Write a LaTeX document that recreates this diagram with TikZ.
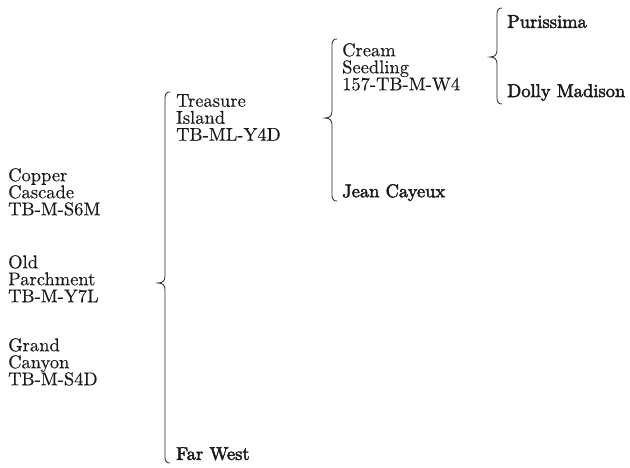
\documentclass[tikz,border=0pt]{standalone}
\usepackage{fontspec}
\setmainfont{lmroman10-regular.otf}[FakeBold=0.3]
\newfontfamily\heavyfont{lmroman10-regular.otf}[FakeBold=2.4]
\newcommand\curlybrace[4]{% x, top, tip y, bottom
  \draw[bracestyle] (#1+5,#2) .. controls (#1+1.5,#2) and (#1,#2+2) .. (#1,#2+6)
    -- (#1,#3-7) .. controls (#1,#3-2.5) and (#1-2,#3) .. (#1-7,#3)
    .. controls (#1-2,#3) and (#1,#3+2.5) .. (#1,#3+7)
    -- (#1,#4-6) .. controls (#1,#4-2) and (#1+1.5,#4) .. (#1+5,#4);}
\begin{document}
\begin{tikzpicture}[x=1pt,y=-1pt,
  bracestyle/.style={line width=0.8pt, black!85},
  lbl/.style={anchor=north west, inner sep=0pt, align=left,
    font=\fontsize{18.5}{17}\selectfont, text=black!90},
  hlbl/.style={lbl, font=\fontsize{18.5}{17}\selectfont\heavyfont}]
\useasboundingbox (0,0) rectangle (630,468);
% left column
\node[lbl] (copper) at (8,168) {Copper\\Cascade\\TB-M-S6M};
\node[lbl] (old) at (8,255) {Old\\Parchment\\TB-M-Y7L};
\node[lbl] (grand) at (8,338) {Grand\\Canyon\\TB-M-S4D};
% second column
\curlybrace{165}{92}{283}{463}
\node[lbl] (treas) at (176,94) {Treasure\\Island\\TB-ML-Y4D};
\node[hlbl] (far) at (176,447) {Far West};
% third column
\curlybrace{332}{39}{118}{201}
\node[lbl] (cream) at (342,43) {Cream\\Seedling\\157-TB-M-W4};
\node[hlbl] (jean) at (342,184) {Jean Cayeux};
% fourth column
\curlybrace{497}{8}{57}{104}
\node[hlbl] (pur) at (507,15) {Purissima};
\node[hlbl] (dol) at (507,84) {Dolly Madison};
\end{tikzpicture}
\end{document}
